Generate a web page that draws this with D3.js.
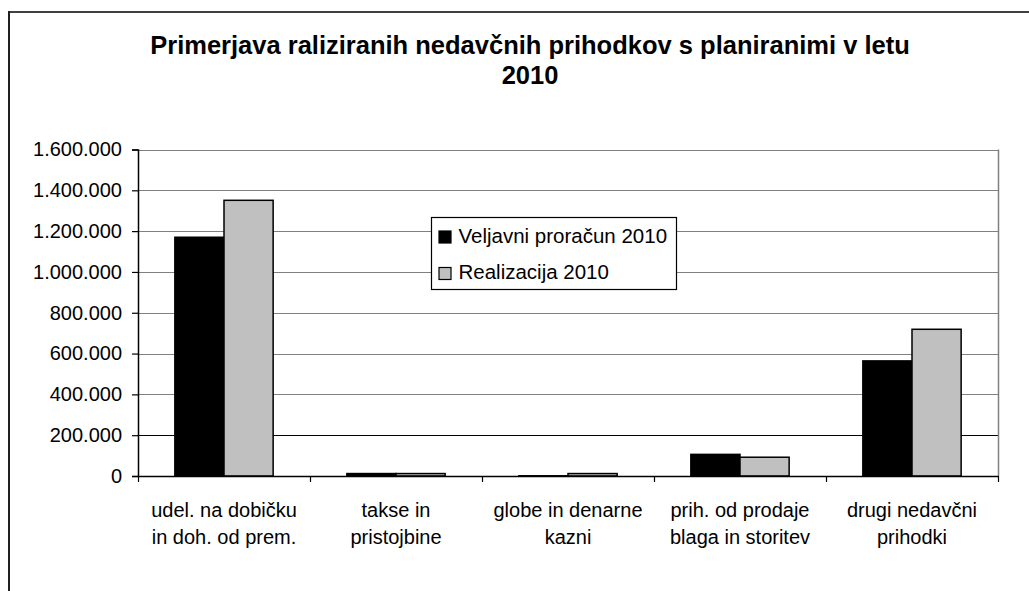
<!DOCTYPE html>
<html>
<head>
<meta charset="utf-8">
<script src="https://cdn.jsdelivr.net/npm/d3@7"></script>
<style>
  html, body { margin: 0; padding: 0; background: #fff; }
  svg { display: block; }
  text { font-family: "Liberation Sans", Arial, sans-serif; fill: #000; }
</style>
</head>
<body>
<svg id="chart" width="1029" height="591"></svg>
<script>
const titleLines = ["Primerjava raliziranih nedavčnih prihodkov s planiranimi v letu", "2010"];
const categories = [
  ["udel. na dobičku", "in doh. od prem."],
  ["takse in", "pristojbine"],
  ["globe in denarne", "kazni"],
  ["prih. od prodaje", "blaga in storitev"],
  ["drugi nedavčni", "prihodki"]
];
const seriesNames = ["Veljavni proračun 2010", "Realizacija 2010"];
const budget2010 = [1170000, 12000, 1000, 106000, 564000];
const realized2010 = [1351000, 12000, 12000, 92000, 719000];
const yTicks = [0, 200000, 400000, 600000, 800000, 1000000, 1200000, 1400000, 1600000];

const seriesColors = ["#000000", "#C0C0C0"];
const seriesValues = [budget2010, realized2010];

const svg = d3.select("#chart");
const W = 1029, H = 591;
const plot = { left: 138, right: 998, top: 149.5, bottom: 476 };

const locale = d3.formatLocale({ decimal: ",", thousands: ".", grouping: [3], currency: ["", " €"] });
const fmt = locale.format(",d");

// outer chart border
svg.append("line").attr("x1", 8).attr("x2", W).attr("y1", 12).attr("y2", 12)
  .attr("stroke", "#404040").attr("stroke-width", 2);
svg.append("line").attr("x1", 9).attr("x2", 9).attr("y1", 11).attr("y2", H)
  .attr("stroke", "#202020").attr("stroke-width", 2);

// title
const title = svg.append("text").attr("text-anchor", "middle")
  .style("font-weight", "bold").style("font-size", "25.5px");
titleLines.forEach((t, i) => {
  title.append("tspan").attr("x", 530).attr("y", 54 + i * 30).text(t);
});

const x0 = d3.scaleBand().domain(d3.range(categories.length))
  .range([plot.left, plot.right]).paddingInner(0).paddingOuter(0);
const barW = x0.bandwidth() / 3.5;
const x1 = d3.scaleBand().domain(d3.range(seriesNames.length))
  .range([0, barW * 2]);
const y = d3.scaleLinear().domain([0, 1600000]).range([plot.bottom, plot.top]);

// gridlines
svg.append("g").selectAll("line").data(yTicks.filter(d => d > 0)).join("line")
  .attr("x1", plot.left).attr("x2", plot.right)
  .attr("y1", d => Math.round(y(d)) + 0.5).attr("y2", d => Math.round(y(d)) + 0.5)
  .attr("stroke", d => d === 200000 ? "#000" : "#808080").attr("stroke-width", 1.2);

// plot right border
svg.append("line").attr("x1", plot.right + 0.5).attr("x2", plot.right + 0.5)
  .attr("y1", y(1600000)).attr("y2", plot.bottom)
  .attr("stroke", "#808080").attr("stroke-width", 1.5);

// bars
const groups = svg.append("g").selectAll("g").data(categories).join("g")
  .attr("transform", (d, i) => `translate(${x0(i) + barW * 0.75},0)`);
groups.selectAll("rect").data((d, i) => seriesValues.map((s, k) => ({ k, v: s[i] }))).join("rect")
  .attr("x", d => x1(d.k))
  .attr("width", x1.bandwidth())
  .attr("y", d => y(d.v))
  .attr("height", d => plot.bottom - y(d.v))
  .attr("fill", d => seriesColors[d.k])
  .attr("stroke", "#000").attr("stroke-width", 1.5);

// y axis
const yAxis = d3.axisLeft(y).tickValues(yTicks).tickFormat(fmt).tickSize(6).tickPadding(10);
const gy = svg.append("g").attr("transform", `translate(${plot.left},0)`).call(yAxis);
gy.select(".domain").attr("stroke", "#000").attr("stroke-width", 1.5);
gy.selectAll(".tick line").attr("stroke", "#000").attr("stroke-width", 1.2);
gy.selectAll(".tick text").style("font-size", "20px").style("font-family", "'Liberation Sans', Arial, sans-serif").attr("fill", "#000");

// x axis
const xTicksScale = d3.scaleLinear().domain([0, categories.length]).range([plot.left, plot.right]);
const xAxis = d3.axisBottom(xTicksScale).tickValues(d3.range(categories.length + 1)).tickFormat("").tickSize(6).tickSizeOuter(0);
const gx = svg.append("g").attr("transform", `translate(0,${plot.bottom})`).call(xAxis);
gx.select(".domain").attr("stroke", "#000").attr("stroke-width", 1.5);
gx.selectAll(".tick line").attr("stroke", "#000").attr("stroke-width", 1.2);

// category labels
const labels = svg.append("g").selectAll("text").data(categories).join("text")
  .attr("text-anchor", "middle").style("font-size", "20px");
labels.each(function (d, i) {
  const cx = x0(i) + x0.bandwidth() / 2;
  d3.select(this).selectAll("tspan").data(d).join("tspan")
    .attr("x", cx).attr("y", (t, j) => 517 + j * 27).text(t => t);
});

// legend
const lg = svg.append("g").attr("transform", "translate(431.5,217.5)");
lg.append("rect").attr("width", 245).attr("height", 72)
  .attr("fill", "#fff").attr("stroke", "#000").attr("stroke-width", 1.2);
seriesNames.forEach((n, i) => {
  lg.append("rect").attr("x", 7.5).attr("y", 13.5 + i * 36.5).attr("width", 12).attr("height", 12)
    .attr("fill", seriesColors[i]).attr("stroke", "#000").attr("stroke-width", 1.2);
  lg.append("text").attr("x", 27).attr("y", 25 + i * 36.5).style("font-size", "20.5px").text(n);
});
</script>
</body>
</html>
